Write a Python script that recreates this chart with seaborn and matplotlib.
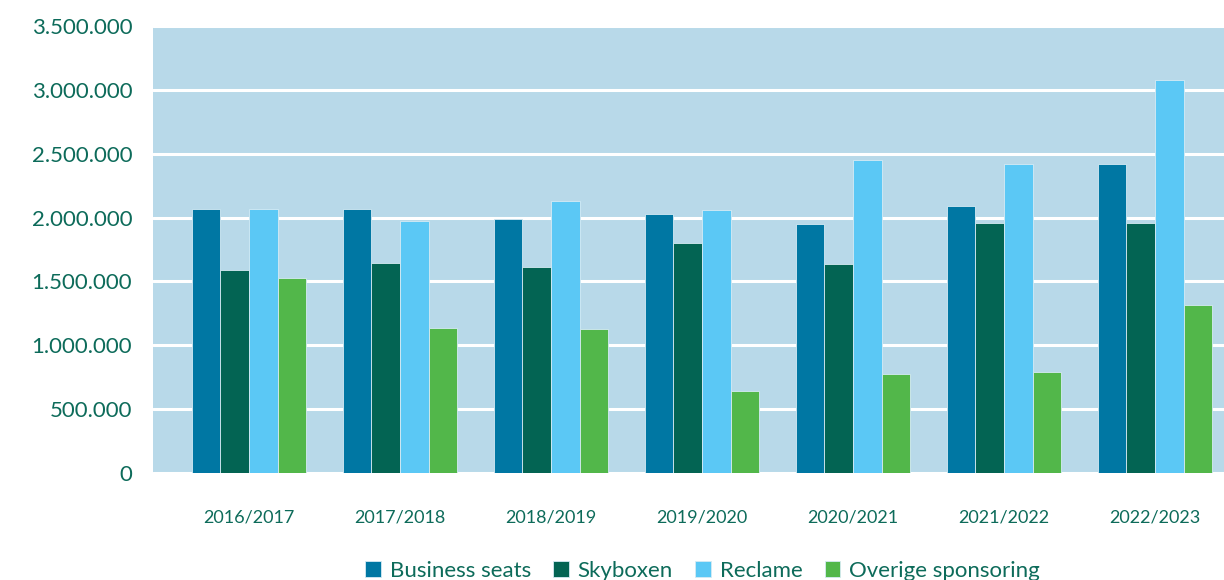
import matplotlib
matplotlib.use("Agg")
import matplotlib.pyplot as plt
from matplotlib.ticker import FuncFormatter
import seaborn as sns
import pandas as pd

# Data
seasons = ["2016/2017", "2017/2018", "2018/2019", "2019/2020", "2020/2021", "2021/2022", "2022/2023"]
business_seats = [2067000, 2067000, 1989000, 2028000, 1950000, 2091000, 2420000]
skyboxen = [1590000, 1644000, 1613000, 1800000, 1637000, 1957000, 1957000]
reclame = [2067000, 1973000, 2130000, 2059000, 2451000, 2420000, 3077000]
overige_sponsoring = [1527000, 1135000, 1128000, 642000, 775000, 791000, 1315000]

series_names = ["Business seats", "Skyboxen", "Reclame", "Overige sponsoring"]
colors = ["#0077a3", "#036453", "#5bc8f5", "#52b74a"]
text_color = "#0d6b5a"

# Long format for seaborn
rows = []
for name, values in zip(series_names, [business_seats, skyboxen, reclame, overige_sponsoring]):
    for season, v in zip(seasons, values):
        rows.append({"season": season, "serie": name, "value": v})
df = pd.DataFrame(rows)

sns.set_style("white")
plt.rcParams["font.family"] = ["Lato", "DejaVu Sans"]

fig = plt.figure(figsize=(12.24, 5.8), dpi=100)
ax = fig.add_axes([0.125, 0.1845, 0.875, 0.7705])
ax.set_facecolor("#b8d9e9")

sns.barplot(data=df, x="season", y="value", hue="serie", hue_order=series_names,
            palette=colors, saturation=1, width=0.76, edgecolor="#d6ebf4", linewidth=0.6,
            ax=ax, zorder=3)

ax.set_ylim(0, 3500000)
ax.set_yticks(range(0, 3500001, 500000))
ax.yaxis.set_major_formatter(FuncFormatter(lambda v, p: f"{int(v):,}".replace(",", ".")))
ax.set_xlim(-0.636, 6.457)

# white gridlines
ax.grid(axis="y", color="white", linewidth=2.2, zorder=1)
ax.set_axisbelow(True)
for s in ax.spines.values():
    s.set_visible(False)

ax.tick_params(axis="y", labelsize=16, colors=text_color, length=0, pad=15)
ax.tick_params(axis="x", labelsize=13, colors=text_color, length=0, pad=26)
ax.set_xlabel("")
ax.set_ylabel("")

handles, labels = ax.get_legend_handles_labels()
ax.get_legend().remove()
fig.legend(handles, labels, loc="center", bbox_to_anchor=(0.574, 0.016), ncol=4,
           frameon=False, fontsize=16, labelcolor=text_color,
           handlelength=0.7, handleheight=0.7, handletextpad=0.4, columnspacing=1.0)

fig.savefig("out.png", dpi=100)
